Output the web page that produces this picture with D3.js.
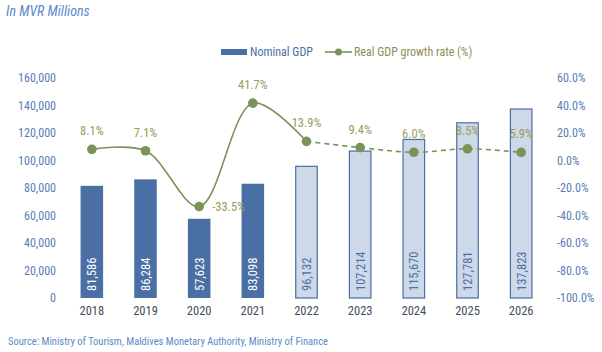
<!DOCTYPE html>
<html>
<head>
<meta charset="utf-8">
<script src="https://cdn.jsdelivr.net/npm/d3@7"></script>
<style>
  body { margin: 0; background: #fff; }
  svg text { font-family: "Roboto Condensed", "Liberation Sans Narrow", "DejaVu Sans Condensed", Roboto, sans-serif; }
</style>
</head>
<body>
<svg width="602" height="352"></svg>
<script>
// chart data
var years = ["2018", "2019", "2020", "2021", "2022", "2023", "2024", "2025", "2026"];
var nominalGdp = [81586, 86284, 57623, 83098, 96132, 107214, 115670, 127781, 137823];
var growthRate = [8.1, 7.1, -33.5, 41.7, 13.9, 9.4, 6.0, 8.5, 5.9];
var leftTicks = [0, 20000, 40000, 60000, 80000, 100000, 120000, 140000, 160000];
var rightTicks = [-100, -80, -60, -40, -20, 0, 20, 40, 60];
var firstProjected = "2022";

var svg = d3.select("svg");
var darkBlue = "#4a6fa5", lightBlue = "#cdd8e8", green = "#7b9259", labelGreen = "#9a9a5c", axisBlue = "#5a7db5";

var x = d3.scaleBand().domain(years).range([65, 548]).paddingInner(0.58).paddingOuter(0.29);
var yL = d3.scaleLinear().domain([0, 160000]).range([298, 78]);
var yR = d3.scaleLinear().domain([-100, 60]).range([298, 78]);

var rows = years.map(function (y, i) {
  return { year: y, gdp: nominalGdp[i], g: growthRate[i], proj: +y >= +firstProjected };
});

// title
svg.append("text").attr("x", 6).attr("y", 16).text("In MVR Millions")
  .style("font-style", "italic").style("font-size", "14px").attr("fill", "#5b8ac6");

// left axis
var axL = svg.append("g").attr("transform", "translate(56,0)")
  .call(d3.axisLeft(yL).tickValues(leftTicks).tickSize(0).tickPadding(0).tickFormat(d3.format(",")));
axL.select(".domain").remove();
axL.selectAll("text").attr("fill", axisBlue).style("font-size", "12px");

// right axis
var axR = svg.append("g").attr("transform", "translate(557,0)")
  .call(d3.axisRight(yR).tickValues(rightTicks).tickSize(0).tickPadding(0).tickFormat(function (d) { return d.toFixed(1) + "%"; }));
axR.select(".domain").remove();
axR.selectAll("text").attr("fill", axisBlue).style("font-size", "12px");

// x axis labels
var axX = svg.append("g").attr("transform", "translate(0,306)")
  .call(d3.axisBottom(x).tickSize(0).tickPadding(0));
axX.select(".domain").remove();
axX.selectAll("text").attr("fill", "#3f4d60").style("font-size", "12.5px");

// bars
svg.append("g").selectAll("rect").data(rows).enter().append("rect")
  .attr("x", function (d) { return x(d.year) + (d.proj ? 0.5 : 0); })
  .attr("y", function (d) { return yL(d.gdp) + (d.proj ? 0.5 : 0); })
  .attr("width", function (d) { return x.bandwidth() - (d.proj ? 1 : 0); })
  .attr("height", function (d) { return yL(0) - yL(d.gdp) - (d.proj ? 0.5 : 0); })
  .attr("fill", function (d) { return d.proj ? lightBlue : darkBlue; })
  .attr("stroke", function (d) { return d.proj ? darkBlue : "none"; })
  .attr("stroke-width", 1.2);

// values inside bars
svg.append("g").selectAll("text").data(rows).enter().append("text")
  .attr("transform", function (d) {
    return "translate(" + (x(d.year) + x.bandwidth() / 2 + 4.5) + "," + 291 + ") rotate(-90)";
  })
  .text(function (d) { return d3.format(",")(d.gdp); })
  .attr("fill", function (d) { return d.proj ? darkBlue : "#fff"; })
  .style("font-size", "12.5px");

// growth line: solid for actuals, dashed for projections
var line = d3.line()
  .x(function (d) { return x(d.year) + x.bandwidth() / 2; })
  .y(function (d) { return yR(d.g); })
  .curve(d3.curveCatmullRom.alpha(0.5));
var actual = rows.filter(function (d) { return +d.year <= +firstProjected; });
var proj = rows.filter(function (d) { return d.proj; });
svg.append("path").datum(actual).attr("d", line)
  .attr("fill", "none").attr("stroke", green).attr("stroke-width", 1.6);
svg.append("path").datum(proj).attr("d", line)
  .attr("fill", "none").attr("stroke", green).attr("stroke-width", 1.6).attr("stroke-dasharray", "5,4");

svg.append("g").selectAll("circle").data(rows).enter().append("circle")
  .attr("cx", function (d) { return x(d.year) + x.bandwidth() / 2; })
  .attr("cy", function (d) { return yR(d.g); })
  .attr("r", 4.8).attr("fill", green);

svg.append("g").selectAll("text").data(rows).enter().append("text")
  .attr("x", function (d) { return x(d.year) + x.bandwidth() / 2 + (d.g < 0 ? 13 : 0); })
  .attr("y", function (d) { return yR(d.g) + (d.g < 0 ? 4.5 : -14); })
  .attr("text-anchor", function (d) { return d.g < 0 ? "start" : "middle"; })
  .text(function (d) { return d.g.toFixed(1) + "%"; })
  .attr("fill", labelGreen).style("font-size", "12.5px");

// legend
var lg = svg.append("g");
lg.append("rect").attr("x", 221).attr("y", 49).attr("width", 26).attr("height", 6).attr("fill", darkBlue);
lg.append("text").attr("x", 250).attr("y", 56).text("Nominal GDP").attr("fill", darkBlue).style("font-size", "12px");
lg.append("line").attr("x1", 325).attr("x2", 352).attr("y1", 52).attr("y2", 52).attr("stroke", green).attr("stroke-width", 1.6);
lg.append("circle").attr("cx", 338.5).attr("cy", 52).attr("r", 3.5).attr("fill", green);
lg.append("text").attr("x", 354).attr("y", 56).text("Real GDP growth rate (%)").attr("fill", "#8e8e55").style("font-size", "12px");

// source
svg.append("text").attr("x", 8).attr("y", 345).text("Source: Ministry of Tourism, Maldives Monetary Authority, Ministry of Finance")
  .attr("fill", "#5b8ac6").style("font-size", "10.5px");
</script>
</body>
</html>
